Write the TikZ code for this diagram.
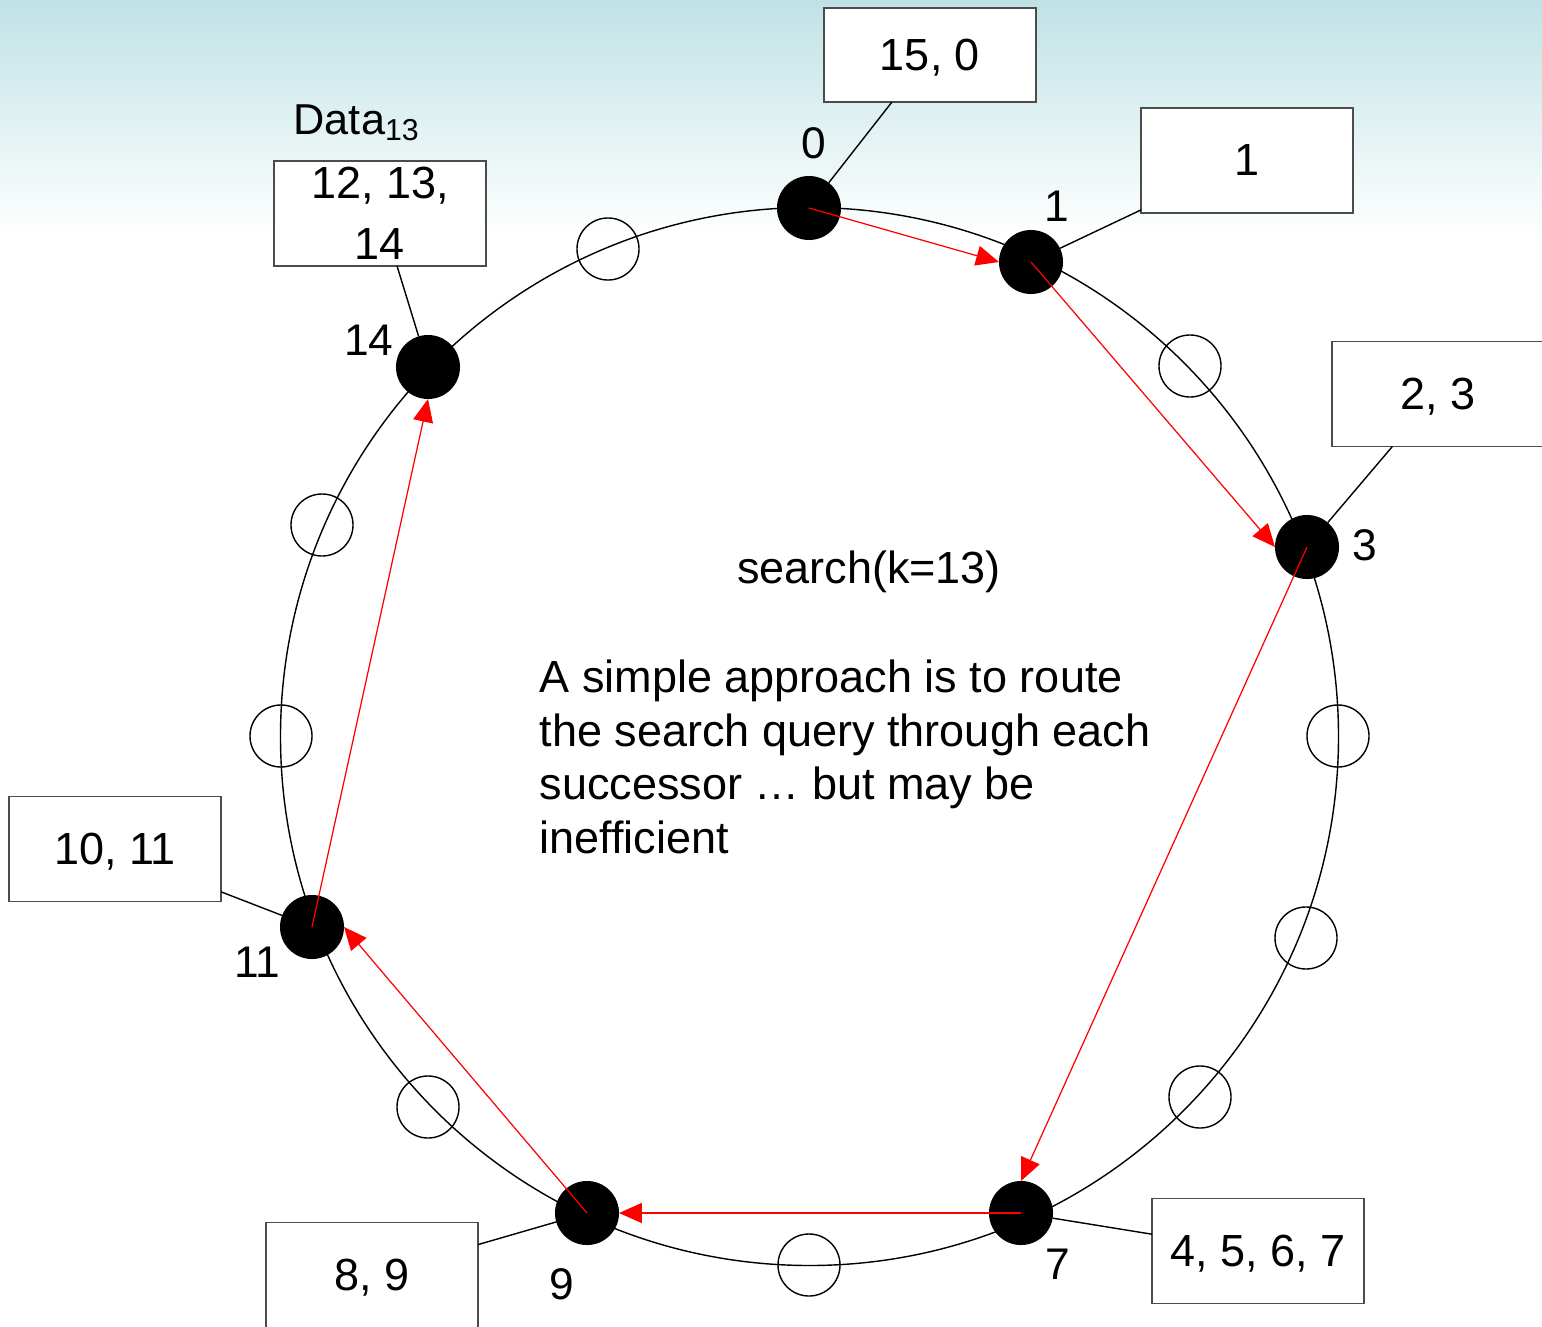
\documentclass[tikz,border=0pt]{standalone}
\usepackage{fontspec}
\setmainfont{Liberation Sans}
\usetikzlibrary{arrows.meta}
\definecolor{skytop}{RGB}{192,226,229}
\tikzset{
	peer/.style={circle,fill=black,minimum size=0.64cm,inner sep=0pt,outer sep=0pt},
	slot/.style={circle,draw=black,line width=0.4pt,minimum size=0.62cm,inner sep=0pt,outer sep=0pt},
	keybox/.style={rectangle,draw=black!70,line width=0.5pt,fill=white,minimum width=2.12cm,minimum height=1.05cm,inner sep=0pt,outer sep=0pt,align=center,text depth=0pt,font=\fontsize{12.8}{17.4}\selectfont},
	idlabel/.style={inner sep=0pt,font=\fontsize{12.6}{14}\selectfont},
	hop/.style={draw=red,line width=0.35pt,-{Triangle[length=6.5pt,width=5.7pt]}},
	tether/.style={draw=black,line width=0.4pt},
}

\begin{document}
\begin{tikzpicture}[x=0.01cm,y=-0.01cm]

	% page and background.....................
	\clip (0,0) rectangle (1542,1327);
	\fill[white] (0,0) rectangle (1542,1327);
	\shade[top color=skytop,bottom color=white] (0,0) rectangle (1542,235);

	% ring........................
	\draw[line width=0.4pt] (809.5,736.5) circle [radius=529];

	% empty slots......................
	\foreach \x/\y [count=\i] in {608/249,1190/366,1338/736,1306/938,1200/1097,809/1265,428/1107,281/736,322/525}
		\node[slot] (s\i) at (\x,\y) {};

	% peers...................
	\node[peer] (n0) at (809,208) {};
	\node[peer] (n1) at (1031,262) {};
	\node[peer] (n3) at (1307,547) {};
	\node[peer] (n7) at (1021,1213) {};
	\node[peer] (n9) at (587,1213) {};
	\node[peer] (n11) at (312,927) {};
	\node[peer] (n14) at (428,367) {};

	% peer ids..................
	\node[idlabel] (l0) at (814,143) {0};
	\node[idlabel] (l1) at (1057,206) {1};
	\node[idlabel] (l3) at (1365,545) {3};
	\node[idlabel] (l7) at (1058,1264) {7};
	\node[idlabel] (l9) at (562,1284) {9};
	\node[idlabel] (l11) at (257,962) {11};
	\node[idlabel] (l14) at (369,340) {14};

	% key boxes.......................
	\node[keybox,minimum height=0.94cm] (b0) at (930,55) {15, 0};
	\node[keybox] (b1) at (1247,160.5) {1};
	\node[keybox] (b3) at (1438,394) {2, 3};
	\node[keybox] (b7) at (1258,1251) {4, 5, 6, 7};
	\node[keybox] (b9) at (372,1275) {8, 9};
	\node[keybox] (b11) at (115,849) {10, 11};
	\node[keybox] (b14) at (380,213.5) {12, 13,\\14};
	\node[anchor=base west,inner sep=0pt,font=\fontsize{12.3}{14}\selectfont] (data) at (293,134) {Data\textsubscript{13}};

	% boxes to peers.............
	\draw[tether] (b0.231) -- (n0);
	\draw[tether] (b1.205.5) -- (n1);
	\draw[tether] (b3.229) -- (n3);
	\draw[tether] (b7.171) -- (n7);
	\draw[tether] (b9.16) -- (n9);
	\draw[tether] (b11.338) -- (n11);
	\draw[tether] (b14.288) -- (n14);

	% query route.......................
	\draw[hop] (n0.center) -- (n1.west);
	\draw[hop] (n1.center) -- (n3.west);
	\draw[hop] (n3.center) -- (n7.north);
	\draw[hop] (n7.center) -- (n9.east);
	\draw[hop] (n9.center) -- (n11.east);
	\draw[hop] (n11.center) -- (n14.south);

	% texts....................
	\node[anchor=base,inner sep=0pt,font=\fontsize{12.8}{15.3}\selectfont] (query) at (869,583) {search(k=13)};
	\node[anchor=north west,inner sep=0pt,align=left,font=\fontsize{12.8}{15.3}\selectfont] (note) at (539,659)
		{A simple approach is to route\\the search query through each\\successor \dots\ but may be\\inefficient};

\end{tikzpicture}
\end{document}
